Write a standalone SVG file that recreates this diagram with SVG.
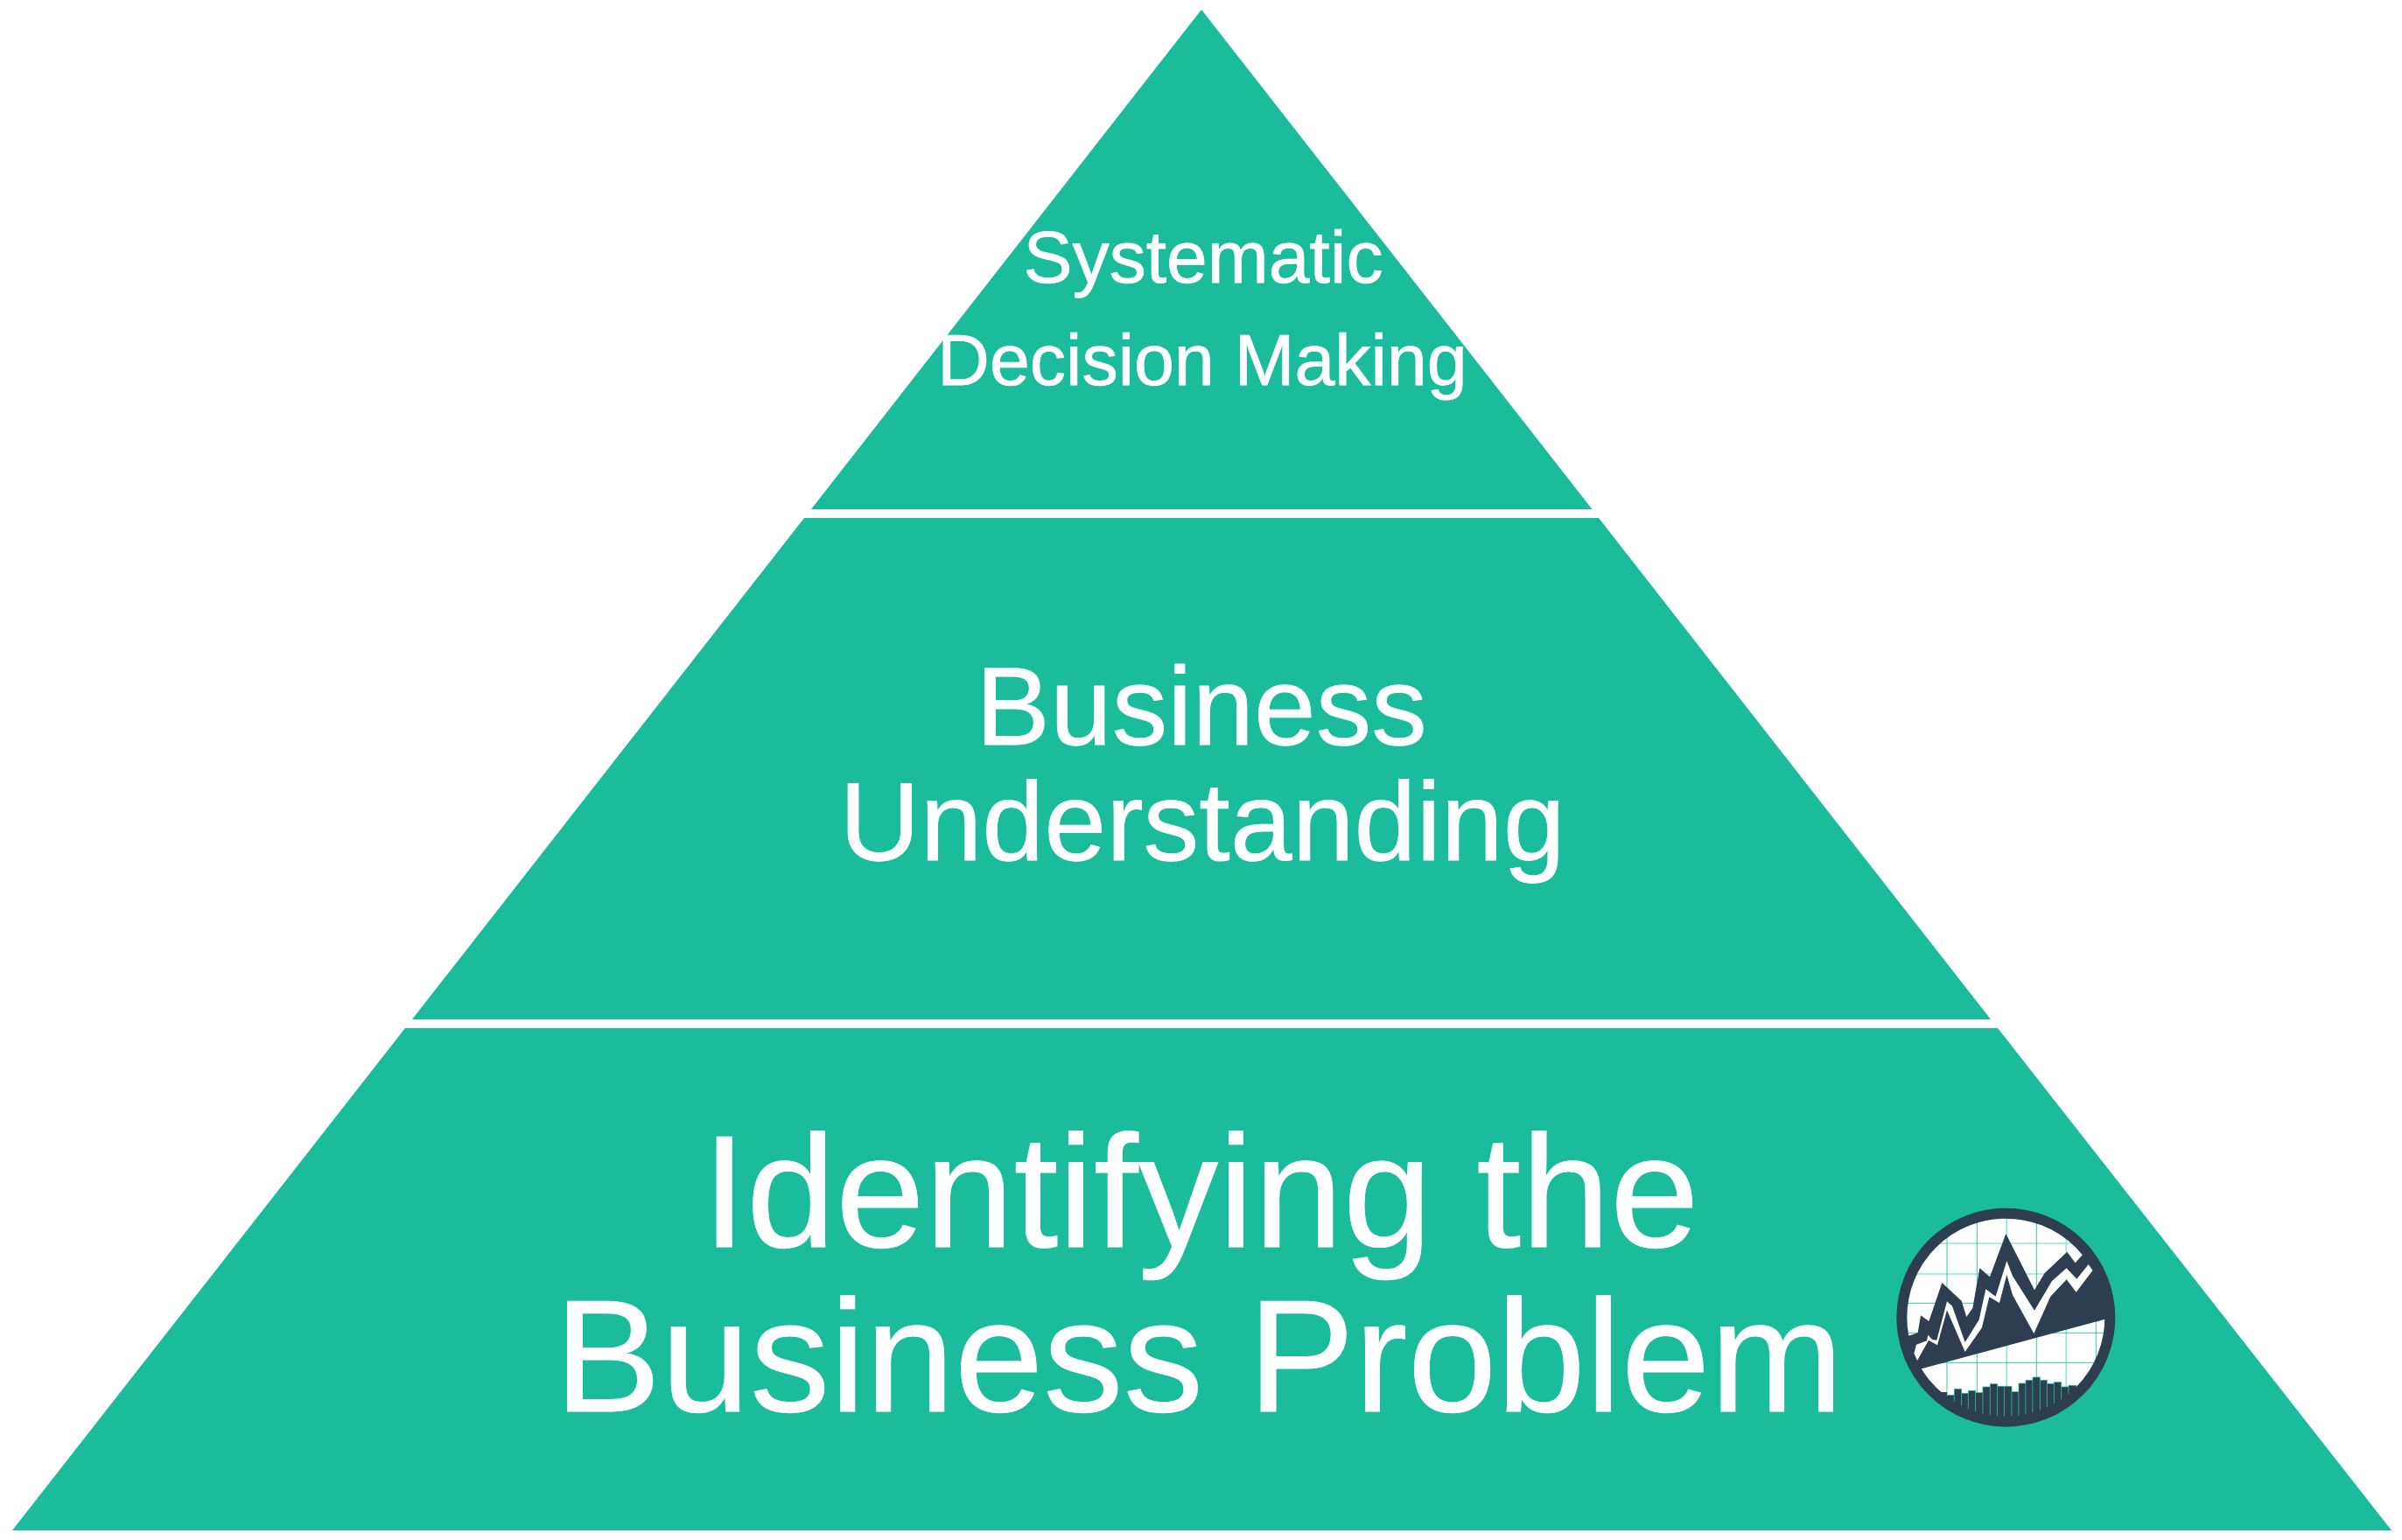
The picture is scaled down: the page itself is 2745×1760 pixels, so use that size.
<svg xmlns="http://www.w3.org/2000/svg" width="2745" height="1760" viewBox="0 0 2745 1760">
<style>
.tier{fill:#1abc9c}
.t{font-family:"Liberation Sans",Arial,sans-serif;fill:#fff;stroke:#fff;stroke-width:.8;text-anchor:middle;text-rendering:geometricPrecision;font-kerning:none}
.dark{fill:#2c3e50}
.g{stroke:#1abc9c;stroke-width:3;fill:none;opacity:.85}
.gl{stroke:#1abc9c;stroke-width:5;fill:none;opacity:.45}
.bars rect{fill:#2c3e50;stroke:#1abc9c;stroke-width:2.5;stroke-opacity:.8}
</style>
<defs><clipPath id="disc"><circle cx="487" cy="437" r="345"/></clipPath></defs>
<rect width="2745" height="1760" fill="#fff"/>
<g id="tier-top">
<polygon class="tier" points="1373,11 1819.5,582 927,582"/>
<text class="t" x="1375" y="323" font-size="84">Systematic</text>
<text class="t" x="1374" y="440" font-size="82.5">Decision Making</text>
</g>
<g id="tier-middle">
<polygon class="tier" points="919,592 1827,592 2275,1165 471,1165"/>
<text class="t" x="1373" y="851" font-size="127">Business</text>
<text class="t" x="1374" y="983" font-size="127.5">Understanding</text>
</g>
<g id="tier-bottom">
<polygon class="tier" points="463,1175 2283,1175 2733,1749 14,1749"/>
<text class="t" x="1372" y="1425" font-size="183">Identifying the</text>
<text class="t" x="1370" y="1613" font-size="182.8">Business Problem</text>
</g>
<g id="logo" transform="translate(2130 1360) scale(.3333)">
<circle cx="487" cy="437" r="345" fill="#fff"/>
<g clip-path="url(#disc)">
<path class="g" d="M80 388H900M80 490H900M80 592H900M285 60V800M388 60V800M592 60V800M796 60V800"/>
<path class="gl" d="M80 183H900M80 288H900M490 60V800M694 60V800"/>
<g class="bars">
<rect x="260" y="693" width="25" height="120" style="stroke:none"/>
<rect x="285" y="703" width="25" height="120"/>
<rect x="310" y="682" width="25" height="130"/>
<rect x="335" y="697" width="23" height="120"/>
<rect x="358" y="688" width="25" height="130"/>
<rect x="383" y="695" width="25" height="120"/>
<rect x="408" y="675" width="25" height="140"/>
<rect x="433" y="665" width="25" height="150"/>
<rect x="458" y="673" width="24" height="140"/>
<rect x="482" y="673" width="25" height="140"/>
<rect x="507" y="692" width="24" height="120"/>
<rect x="531" y="663" width="24" height="150"/>
<rect x="555" y="652" width="24" height="160"/>
<rect x="579" y="642" width="25" height="170"/>
<rect x="604" y="652" width="24" height="160"/>
<rect x="628" y="664" width="24" height="150"/>
<rect x="652" y="659" width="25" height="150"/>
<rect x="677" y="675" width="25" height="130"/>
<rect x="702" y="670" width="26" height="130"/>
</g>
<polygon class="dark" points="110,508 153,500 185,490 195,430 223,450 268,318 335,380 352,435 373,405 397,268 432,298 487,150 585,343 620,285 697,212 725,250 747,225 800,180 880,200 880,440 827,443 198,613 100,640"/>
<polygon fill="#fff" points="172,560 180,530 216,517 220,497 235,513 250,515 285,382 303,398 347,522 395,445 418,340 452,365 490,243 510,295 585,413 645,312 695,268 730,305 770,255 785,275 728,350 695,307 640,365 583,492 510,360 490,290 465,387 430,367 405,472 347,555 285,412 252,532 222,515 183,585"/>
</g>
<circle cx="487" cy="437" r="357" fill="none" stroke="#2c3e50" stroke-width="36"/>
</g>
</svg>
